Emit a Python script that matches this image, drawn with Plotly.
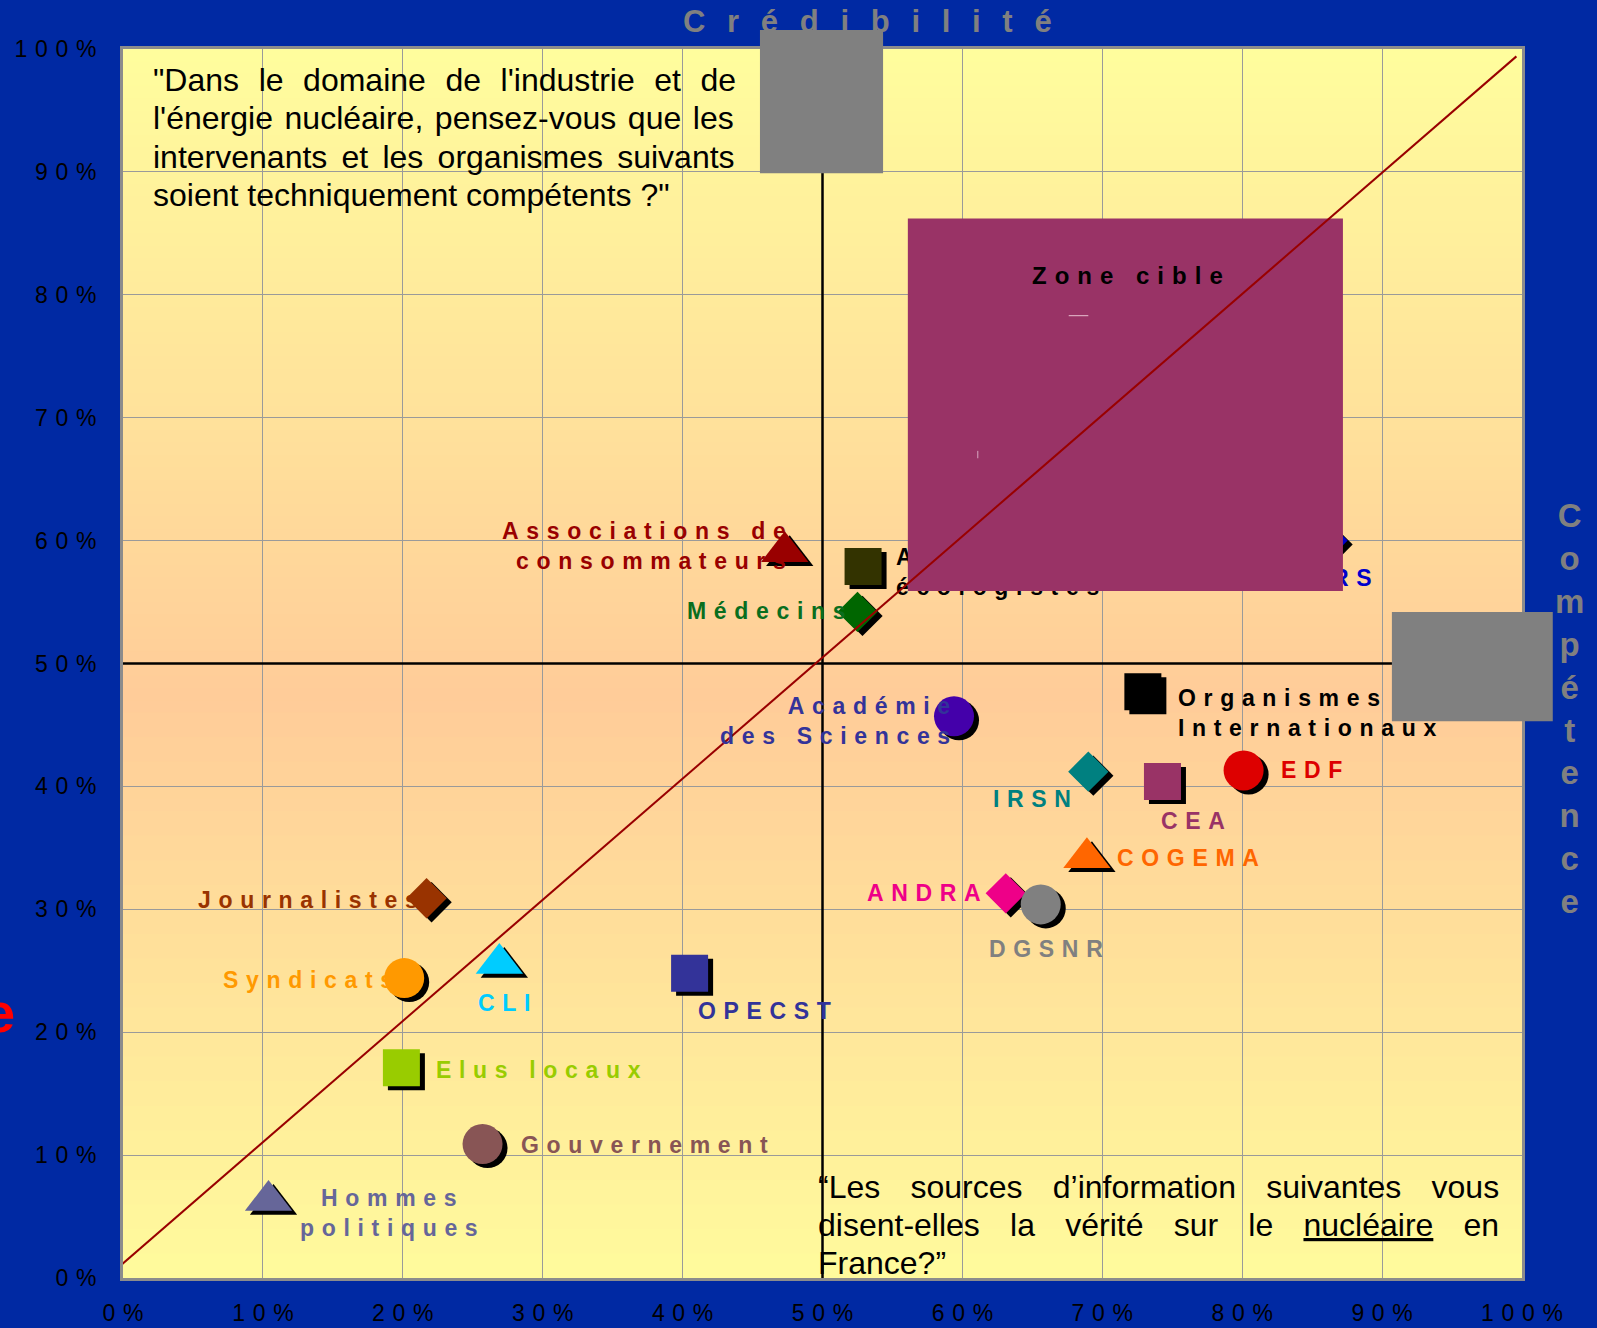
import plotly.graph_objects as go

# ---------------- data ----------------
names = ["Associations de\nconsommateurs", "Associations\nécologistes", "Médecins",
         "Académie\ndes Sciences", "Organismes\nInternationaux", "IRSN", "CEA", "EDF",
         "COGEMA", "ANDRA", "DGSNR", "Journalistes", "Syndicats", "CLI", "OPECST",
         "Elus locaux", "Gouvernement", "Hommes\npolitiques", "CNRS"]
credibilite = [47.3, 52.9, 52.5, 59.4, 72.9, 69.0, 74.3, 80.1, 68.9, 63.1, 65.6,
               21.7, 20.1, 26.9, 40.5, 19.9, 25.7, 10.4, 86.1]
competence = [59.1, 57.9, 54.2, 45.7, 47.7, 41.2, 40.4, 41.3, 34.2, 31.3, 30.4,
              30.9, 24.4, 25.6, 24.8, 17.1, 10.9, 6.3, 60.0]
tick_vals = [0, 10, 20, 30, 40, 50, 60, 70, 80, 90, 100]
tick_labels = ["0%", "10%", "20%", "30%", "40%", "50%", "60%", "70%", "80%", "90%", "100%"]

# ---------------- styles ----------------
symbols = ["triangle-up", "square", "diamond", "circle", "square", "diamond", "square",
           "circle", "triangle-up", "diamond", "circle", "diamond", "circle",
           "triangle-up", "square", "square", "circle", "triangle-up", "diamond"]
marker_colors = ["#990000", "#333300", "#006600", "#4400AA", "#000000", "#008080",
                 "#993366", "#DD0000", "#FF6600", "#EE0088", "#808080", "#993300",
                 "#FF9900", "#00CCFF", "#333399", "#99CC00", "#885555", "#666699",
                 "#0000CC"]
label_colors = ["#990000", "#000000", "#0A6E1E", "#333399", "#000000", "#008080",
                "#993366", "#DD0000", "#FF6600", "#EE0088", "#808080", "#993300",
                "#FF9900", "#00CCFF", "#333399", "#99CC00", "#885555", "#666699",
                "#0000CC"]
size_by_symbol = {"triangle-up": 41, "square": 37, "diamond": 31, "circle": 40}
marker_sizes = [size_by_symbol[s] for s in symbols]
# label placement: (xanchor, xshift px, yshift px, align) ; None -> drawn behind the target box
label_style = [("right", 3, 6, "right"), None, ("right", -9, 1, "right"),
               ("right", -2, -5, "right"), ("left", 33, -21, "left"),
               ("right", -15, -27, "right"), ("center", 31, -40, "center"),
               ("left", 35, 0, "left"), ("left", 28, 0, "left"),
               ("right", -23, 0, "right"), ("center", 5, -45, "center"),
               ("right", -7, -2, "right"), ("right", -9, -2, "right"),
               ("center", 5, -40, "center"), ("left", 6, -38, "left"),
               ("left", 33, -2, "left"), ("left", 36, -1, "left"),
               ("center", 120, -12, "center"), None]
hidden_pos = {1: ("middle right", 51), 18: ("bottom center", 31)}

SP = "\u2004"
FONT = "Liberation Sans, Arial, sans-serif"


def spaced(text, sp=SP):
    return "<br>".join(sp.join(list(line)) for line in text.split("\n"))


W, H = 1597, 1328
ML, MR, MT, MB = 123, 75, 49, 50
PW, PH = W - ML - MR, H - MT - MB
SHX, SHY = 5, 4      # marker shadow offset (px)
HLY = 8              # extra downward offset (px) of labels hidden behind the box

fig = go.Figure()

# shadows
fig.add_trace(go.Scatter(
    x=credibilite, y=competence, xaxis="x2", yaxis="y2", mode="markers",
    marker=dict(symbol=symbols, size=marker_sizes, color="black", line_width=0, opacity=1),
    hoverinfo="skip", showlegend=False))
# markers
fig.add_trace(go.Scatter(
    x=credibilite, y=competence, xaxis="x3", yaxis="y3", mode="markers",
    marker=dict(symbol=symbols, size=marker_sizes, color=marker_colors, line_width=0, opacity=1),
    text=[n.replace("\n", " ") for n in names], hoverinfo="text", showlegend=False))
# labels that sit behind the "Zone cible" box (a trace, so that the box covers them)
hid = sorted(hidden_pos)
fig.add_trace(go.Scatter(
    x=[credibilite[i] for i in hid], y=[competence[i] for i in hid],
    xaxis="x4", yaxis="y4", mode="markers+text",
    text=["<b>" + spaced(names[i]) + "</b>" for i in hid],
    textposition=[hidden_pos[i][0] for i in hid],
    textfont=dict(family=FONT, size=23, color=[label_colors[i] for i in hid]),
    marker=dict(size=[hidden_pos[i][1] for i in hid], opacity=0),
    hoverinfo="skip", showlegend=False, cliponaxis=False))

# ---------------- background gradient ----------------
stops = [(0, (255, 251, 156)), (47, (255, 204, 153)), (100, (255, 253, 157))]


def grad(v):
    for (a, ca), (b, cb) in zip(stops[:-1], stops[1:]):
        if a <= v <= b:
            t = (v - a) / (b - a)
            return "rgb(%d,%d,%d)" % tuple(round(ca[k] + t * (cb[k] - ca[k])) for k in range(3))
    return "rgb(255,230,155)"


shapes = []
NB = 100
for k in range(NB):
    y0 = 100 * k / NB
    y1 = 100 * (k + 1) / NB
    shapes.append(dict(type="rect", xref="x", yref="y", x0=0, x1=100, y0=y0, y1=y1 + 0.3,
                       fillcolor=grad((y0 + y1) / 2), line_width=0, layer="below"))

# 50% cross lines
shapes.append(dict(type="line", xref="x", yref="y", x0=50, x1=50, y0=0, y1=100,
                   line=dict(color="black", width=2.5), layer="between"))
shapes.append(dict(type="line", xref="x", yref="y", x0=0, x1=100, y0=50, y1=50,
                   line=dict(color="black", width=2.5), layer="between"))
# target zone
shapes.append(dict(type="rect", xref="x", yref="y", x0=56.1, x1=87.2, y0=55.9, y1=86.2,
                   fillcolor="#993366", line_width=0, layer="above"))
shapes.append(dict(type="line", xref="x", yref="y", x0=67.6, x1=69.0, y0=78.3, y1=78.3,
                   line=dict(color="#e8c0d0", width=1), layer="above"))
shapes.append(dict(type="line", xref="x", yref="y", x0=61.1, x1=61.1, y0=66.7, y1=67.3,
                   line=dict(color="#d8a8c0", width=1), layer="above"))
# diagonal
shapes.append(dict(type="line", xref="x", yref="y", x0=-0.8, y0=0.4, x1=99.6, y1=99.4,
                   line=dict(color="#990000", width=2), layer="above"))
# grey masking boxes
shapes.append(dict(type="rect", xref="paper", yref="paper", x0=0.4553, x1=0.5433,
                   y0=0.899, y1=1.0155, fillcolor="#808080", line_width=0, layer="above"))
shapes.append(dict(type="rect", xref="paper", yref="paper", x0=0.907, x1=1.022,
                   y0=0.453, y1=0.542, fillcolor="#808080", line_width=0, layer="above"))

# ---------------- annotations ----------------
ann = []
for i, st in enumerate(label_style):
    if st is None:
        continue
    xa, xs, ys, al = st
    ann.append(dict(x=credibilite[i], y=competence[i], xref="x3", yref="y3",
                    text="<b>" + spaced(names[i]) + "</b>", showarrow=False,
                    xanchor=xa, yanchor="middle", xshift=xs, yshift=ys, align=al,
                    font=dict(family=FONT, size=23, color=label_colors[i])))

ann.append(dict(x=0.5325, y=1.022, xref="paper", yref="paper", showarrow=False,
                text="<b>" + "\u2002\u2009".join(list("Crédibilité")) + "</b>",
                font=dict(family=FONT, size=31, color="#808080"),
                xanchor="center", yanchor="middle"))
ann.append(dict(x=1.0343, y=0.463, xref="paper", yref="paper", showarrow=False,
                text="<b>" + "<br>".join(list("Compétence")) + "</b>",
                font=dict(family=FONT, size=33, color="#808080"),
                xanchor="center", yanchor="middle", align="center"))
ann.append(dict(x=-0.088, y=0.216, xref="paper", yref="paper", showarrow=False,
                text="<b>e</b>", font=dict(family=FONT, size=56, color="#FF0000"),
                xanchor="center", yanchor="middle"))
ann.append(dict(x=71.8, y=81.6, xref="x", yref="y", showarrow=False,
                text="<b>" + spaced("Zone cible") + "</b>",
                font=dict(family=FONT, size=24, color="black"),
                xanchor="center", yanchor="middle"))

# questions (justified in the reference: word gaps widened per line)
q1 = [("\"Dans le domaine de l'industrie et de", " \u2005\u200a"),
      ("l'énergie nucléaire, pensez-vous que les", " \u200a"),
      ("intervenants et les organismes suivants", " \u2006"),
      ("soient techniquement compétents ?\"", " ")]
q1_y = [0.9748, 0.9439, 0.9121, 0.8812]
for (t, gap), yy in zip(q1, q1_y):
    ann.append(dict(x=0.020, y=yy, xref="paper", yref="paper", showarrow=False,
                    text=t.replace(" ", gap), font=dict(family=FONT, size=32, color="black"),
                    xanchor="left", yanchor="middle"))
q2 = [("“Les sources d’information suivantes vous", " \u2002\u2006"),
      ("disent-elles la vérité sur le <u>nucléaire</u> en", " \u2002\u2006"),
      ("France?”", " ")]
q2_y = [0.0737, 0.0431, 0.0124]
for (t, gap), yy in zip(q2, q2_y):
    ann.append(dict(x=0.4955, y=yy, xref="paper", yref="paper", showarrow=False,
                    text=t.replace(" ", gap), font=dict(family=FONT, size=32, color="black"),
                    xanchor="left", yanchor="middle"))

tick_text = [spaced(t) for t in tick_labels]
axis_common = dict(range=[0, 100], tickvals=tick_vals, ticktext=tick_text,
                   showgrid=True, gridcolor="#9a9a9a", gridwidth=1, zeroline=False,
                   showline=True, mirror=True, linecolor="#8c8c8c", linewidth=3,
                   ticks="", tickfont=dict(family=FONT, size=23, color="black"),
                   fixedrange=True, automargin=False)
dx = SHX * 100 / PW
dy = SHY * 100 / PH
dh = HLY * 100 / PH
hidden_axis = dict(visible=False, fixedrange=True, automargin=False)

fig.update_layout(
    width=W, height=H, margin=dict(l=ML, r=MR, t=MT, b=MB, autoexpand=False),
    paper_bgcolor="#0029A3", plot_bgcolor="#FFE0A0",
    xaxis=dict(**axis_common, ticklabelstandoff=12),
    yaxis=dict(**axis_common, ticklabelstandoff=19),
    xaxis2=dict(overlaying="x", anchor="y2", range=[-dx, 100 - dx], **hidden_axis),
    yaxis2=dict(overlaying="y", anchor="x2", range=[dy, 100 + dy], **hidden_axis),
    xaxis3=dict(overlaying="x", anchor="y3", range=[0, 100], **hidden_axis),
    yaxis3=dict(overlaying="y", anchor="x3", range=[0, 100], **hidden_axis),
    xaxis4=dict(overlaying="x", anchor="y4", range=[0, 100], **hidden_axis),
    yaxis4=dict(overlaying="y", anchor="x4", range=[dh, 100 + dh], **hidden_axis),
    shapes=shapes, annotations=ann, showlegend=False,
)

fig.write_html("out.html", config={"displayModeBar": False},
               post_script="document.body.style.margin='0';document.body.style.overflow='hidden';")
